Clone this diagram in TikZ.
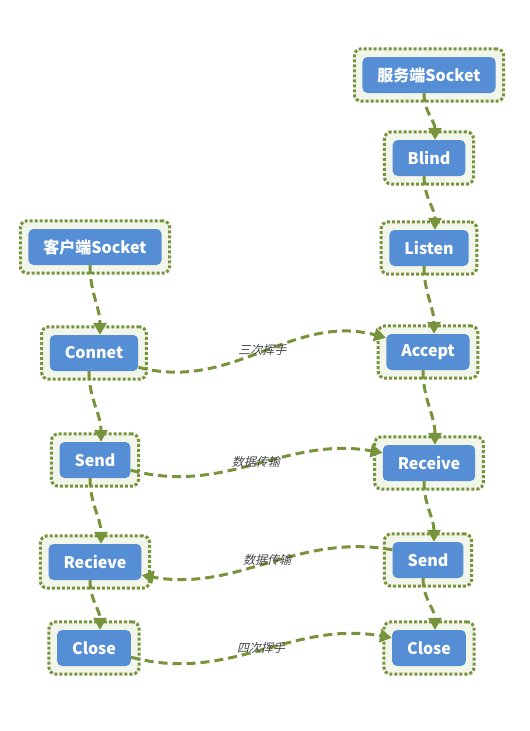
\documentclass[tikz,border=0pt]{standalone}
\usepackage{fontspec}
\usepackage{tikz}
\usetikzlibrary{arrows.meta}
\usetikzlibrary{fit}
\usetikzlibrary{backgrounds}
\newfontfamily\cjk{Noto Sans CJK SC}
\newfontfamily\cjkslant{Noto Sans CJK SC}[FakeSlant=0.25]
\definecolor{boxblue}{RGB}{85,142,213}
\definecolor{olivegreen}{RGB}{119,147,60}
\definecolor{framefill}{RGB}{242,245,234}
\definecolor{labelgray}{RGB}{70,70,70}
\tikzset{
    sock/.style={rounded corners=5pt, fill=boxblue, text=white, minimum height=36pt,
        inner xsep=15pt, font=\cjk\bfseries\fontsize{16}{19}\selectfont}, % 定义蓝色方框的样式
    frame/.style={rounded corners=7pt, draw=olivegreen, fill=framefill, line width=3pt,
        dash pattern=on 3pt off 2pt, inner sep=8pt}, % 定义外层点线框的样式
    flow/.style={draw=olivegreen, line width=3pt, dash pattern=on 9pt off 5pt,
        -{Triangle[length=12pt,width=13pt]}}, % 定义虚线箭头的样式
    lbl/.style={text=labelgray, font=\cjkslant\fontsize{12}{14}\selectfont, inner sep=1pt}
}

\begin{document}
\begin{tikzpicture}[x=1pt, y=-1pt]
          \useasboundingbox (0,0) rectangle (530,731);

          % --- 1. 用循环放置所有方框: \nm / \x / \y / \txt ---
          \foreach \nm / \x / \y / \txt in {
              srv/429/75/{服务端Socket},
              bld/429/158/{Blind},
              lsn/429/248/{Listen},
              acc/428/352/{Accept},
              rcv/429/463/{Receive},
              ssnd/428/560/{Send},
              sclo/429/648/{Close},
              cli/95/247/{客户端Socket},
              con/94/353/{Connet},
              csnd/95/460/{Send},
              crcv/95/562/{Recieve},
              cclo/94/648/{Close}
          } {
              \node[sock] (\nm) at (\x, \y) {\txt};
          }

          % --- 2. 外层点线框画在背景层 ---
          \begin{scope}[on background layer]
              \foreach \nm in {srv, bld, lsn, acc, rcv, ssnd, sclo, cli, con, csnd, crcv, cclo} {
                  \node[frame, fit=(\nm)] (\nm-f) {};
              }
          \end{scope}

          % --- 3. 竖直方向的流程箭头 ---
          \foreach \a / \b in {srv/bld, bld/lsn, lsn/acc, acc/rcv, rcv/ssnd, ssnd/sclo,
              cli/con, con/csnd, csnd/crcv, crcv/cclo} {
              \draw[flow] ([xshift=-5pt]\a.south) to[out=-90, in=90] ([xshift=6pt]\b.north);
          }

          % --- 4. 两端之间的箭头和说明文字 ---
          \draw[flow] ([yshift=4pt]con.south east) to[out=-15, in=165]
              node[lbl, midway, yshift=3pt] {三次挥手} ([yshift=-4pt]acc.north west);
          \draw[flow] ([yshift=8pt]csnd.south east) to[out=-15, in=170]
              node[lbl, midway, yshift=3pt] {数据传输} ([yshift=-8pt]rcv.north west);
          \draw[flow] ([yshift=-8pt]ssnd.north west) to[out=170, in=-10]
              node[lbl, midway, yshift=3pt] {数据传输} ([yshift=5pt]crcv.south east);
          \draw[flow] ([yshift=9pt]cclo.south east) to[out=-15, in=170]
              node[lbl, midway, yshift=3pt] {四次挥手} ([yshift=-8pt]sclo.north west);

      \end{tikzpicture}
\end{document}
